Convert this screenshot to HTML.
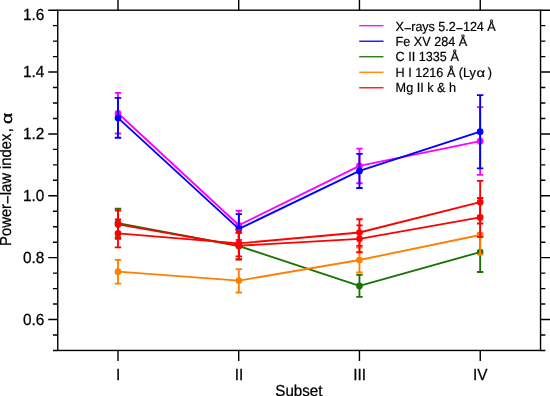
<!DOCTYPE html>
<html><head><meta charset="utf-8"><title>Power-law index</title>
<style>html,body{margin:0;padding:0;background:#fff;overflow:hidden}svg{display:block}text{font-family:"Liberation Sans",sans-serif;fill:#000;text-rendering:geometricPrecision}</style></head><body>
<svg width="550" height="396" viewBox="0 0 550 396">
<rect width="550" height="396" fill="#fff"/>
<g stroke="#ff00ff" fill="none" stroke-width="1.85" stroke-linejoin="round">
<polyline points="118.00,113.30 238.85,225.25 359.45,165.90 480.15,141.20"/>
<circle cx="118.00" cy="113.30" r="3.35" fill="#ff00ff" stroke="none"/>
<circle cx="238.85" cy="225.25" r="3.35" fill="#ff00ff" stroke="none"/>
<circle cx="359.45" cy="165.90" r="3.35" fill="#ff00ff" stroke="none"/>
<circle cx="480.15" cy="141.20" r="3.35" fill="#ff00ff" stroke="none"/>
<path d="M118.00 92.90V133.50M114.80 92.90H121.20M114.80 133.50H121.20M238.85 210.70V239.80M235.65 210.70H242.05M235.65 239.80H242.05M359.45 148.60V183.20M356.25 148.60H362.65M356.25 183.20H362.65M480.15 107.10V174.90M476.95 107.10H483.35M476.95 174.90H483.35"/>
</g>
<g stroke="#0000ff" fill="none" stroke-width="1.85" stroke-linejoin="round">
<polyline points="118.00,117.90 238.85,228.90 359.45,170.90 480.15,131.70"/>
<circle cx="118.00" cy="117.90" r="3.35" fill="#0000ff" stroke="none"/>
<circle cx="238.85" cy="228.90" r="3.35" fill="#0000ff" stroke="none"/>
<circle cx="359.45" cy="170.90" r="3.35" fill="#0000ff" stroke="none"/>
<circle cx="480.15" cy="131.70" r="3.35" fill="#0000ff" stroke="none"/>
<path d="M118.00 97.90V137.70M114.80 97.90H121.20M114.80 137.70H121.20M238.85 214.10V243.70M235.65 214.10H242.05M235.65 243.70H242.05M359.45 153.90V188.00M356.25 153.90H362.65M356.25 188.00H362.65M480.15 95.10V168.30M476.95 95.10H483.35M476.95 168.30H483.35"/>
</g>
<g stroke="#1b7206" fill="none" stroke-width="1.85" stroke-linejoin="round">
<polyline points="118.00,223.05 238.85,246.00 359.45,285.90 480.15,252.10"/>
<circle cx="118.00" cy="223.05" r="3.35" fill="#1b7206" stroke="none"/>
<circle cx="238.85" cy="246.00" r="3.35" fill="#1b7206" stroke="none"/>
<circle cx="359.45" cy="285.90" r="3.35" fill="#1b7206" stroke="none"/>
<circle cx="480.15" cy="252.10" r="3.35" fill="#1b7206" stroke="none"/>
<path d="M118.00 208.70V237.20M114.80 208.70H121.20M114.80 237.20H121.20M238.85 232.90V259.60M235.65 232.90H242.05M235.65 259.60H242.05M359.45 274.80V296.90M356.25 274.80H362.65M356.25 296.90H362.65M480.15 233.40V272.00M476.95 233.40H483.35M476.95 272.00H483.35"/>
</g>
<g stroke="#ff8000" fill="none" stroke-width="1.85" stroke-linejoin="round">
<polyline points="118.00,271.70 238.85,280.60 359.45,260.00 480.15,235.00"/>
<circle cx="118.00" cy="271.70" r="3.35" fill="#ff8000" stroke="none"/>
<circle cx="238.85" cy="280.60" r="3.35" fill="#ff8000" stroke="none"/>
<circle cx="359.45" cy="260.00" r="3.35" fill="#ff8000" stroke="none"/>
<circle cx="480.15" cy="235.00" r="3.35" fill="#ff8000" stroke="none"/>
<path d="M118.00 259.80V283.60M114.80 259.80H121.20M114.80 283.60H121.20M238.85 269.10V292.50M235.65 269.10H242.05M235.65 292.50H242.05M359.45 247.60V272.50M356.25 247.60H362.65M356.25 272.50H362.65M480.15 215.80V254.50M476.95 215.80H483.35M476.95 254.50H483.35"/>
</g>
<g stroke="#ff0000" fill="none" stroke-width="1.85" stroke-linejoin="round">
<polyline points="118.00,224.40 238.85,245.70 359.45,238.80 480.15,217.40"/>
<circle cx="118.00" cy="224.40" r="3.35" fill="#ff0000" stroke="none"/>
<circle cx="238.85" cy="245.70" r="3.35" fill="#ff0000" stroke="none"/>
<circle cx="359.45" cy="238.80" r="3.35" fill="#ff0000" stroke="none"/>
<circle cx="480.15" cy="217.40" r="3.35" fill="#ff0000" stroke="none"/>
<path d="M118.00 210.50V238.80M114.80 210.50H121.20M114.80 238.80H121.20M238.85 229.80V256.40M235.65 229.80H242.05M235.65 256.40H242.05M359.45 219.20V245.80M356.25 219.20H362.65M356.25 245.80H362.65M480.15 180.80V223.50M476.95 180.80H483.35M476.95 223.50H483.35"/>
</g>
<g stroke="#ff0000" fill="none" stroke-width="1.85" stroke-linejoin="round">
<polyline points="118.00,233.40 238.85,243.40 359.45,232.50 480.15,202.20"/>
<circle cx="118.00" cy="233.40" r="3.35" fill="#ff0000" stroke="none"/>
<circle cx="238.85" cy="243.40" r="3.35" fill="#ff0000" stroke="none"/>
<circle cx="359.45" cy="232.50" r="3.35" fill="#ff0000" stroke="none"/>
<circle cx="480.15" cy="202.20" r="3.35" fill="#ff0000" stroke="none"/>
<path d="M118.00 219.50V247.40M114.80 219.50H121.20M114.80 247.40H121.20M238.85 232.50V259.20M235.65 232.50H242.05M235.65 259.20H242.05M359.45 225.40V252.20M356.25 225.40H362.65M356.25 252.20H362.65M480.15 198.00V236.80M476.95 198.00H483.35M476.95 236.80H483.35"/>
</g>
<g stroke="#000" stroke-width="1.4" fill="none" stroke-linecap="butt">
<rect x="57.75" y="10.2" width="482.80" height="340.25"/>
<path d="M57.75 350.45h-4.8M540.55 350.45h4.8M57.75 334.98h-4.8M540.55 334.98h4.8M57.75 319.52h-9.5M540.55 319.52h9.5M57.75 304.05h-4.8M540.55 304.05h4.8M57.75 288.59h-4.8M540.55 288.59h4.8M57.75 273.12h-4.8M540.55 273.12h4.8M57.75 257.65h-9.5M540.55 257.65h9.5M57.75 242.19h-4.8M540.55 242.19h4.8M57.75 226.72h-4.8M540.55 226.72h4.8M57.75 211.26h-4.8M540.55 211.26h4.8M57.75 195.79h-9.5M540.55 195.79h9.5M57.75 180.32h-4.8M540.55 180.32h4.8M57.75 164.86h-4.8M540.55 164.86h4.8M57.75 149.39h-4.8M540.55 149.39h4.8M57.75 133.93h-9.5M540.55 133.93h9.5M57.75 118.46h-4.8M540.55 118.46h4.8M57.75 103.00h-4.8M540.55 103.00h4.8M57.75 87.53h-4.8M540.55 87.53h4.8M57.75 72.06h-9.5M540.55 72.06h9.5M57.75 56.60h-4.8M540.55 56.60h4.8M57.75 41.13h-4.8M540.55 41.13h4.8M57.75 25.67h-4.8M540.55 25.67h4.8M57.75 10.20h-9.5M540.55 10.20h9.5M118.00 350.45v10.5M118.00 10.20v-10.5M238.70 350.45v10.5M238.70 10.20v-10.5M359.45 350.45v10.5M359.45 10.20v-10.5M480.25 350.45v10.5M480.25 10.20v-10.5"/>
</g>
<g stroke="#000" stroke-width="0.25">
<text transform="translate(44.30 324.72) scale(1 1.045)" font-size="15.4" text-anchor="end">0.6</text>
<text transform="translate(44.30 262.85) scale(1 1.045)" font-size="15.4" text-anchor="end">0.8</text>
<text transform="translate(44.30 200.99) scale(1 1.045)" font-size="15.4" text-anchor="end">1.0</text>
<text transform="translate(44.30 139.13) scale(1 1.045)" font-size="15.4" text-anchor="end">1.2</text>
<text transform="translate(44.30 77.26) scale(1 1.045)" font-size="15.4" text-anchor="end">1.4</text>
<text transform="translate(44.30 19.50) scale(1 1.045)" font-size="15.4" text-anchor="end">1.6</text>
<text transform="translate(118.10 379.80) scale(1 1.045)" font-size="15.4" text-anchor="middle">I</text>
<text transform="translate(238.95 379.80) scale(1 1.045)" font-size="15.4" text-anchor="middle">II</text>
<text transform="translate(359.55 379.80) scale(1 1.045)" font-size="15.4" text-anchor="middle">III</text>
<text transform="translate(480.25 379.80) scale(1 1.045)" font-size="15.4" text-anchor="middle">IV</text>
<text transform="translate(298.85 396.40) scale(1 1.045)" font-size="15.15" text-anchor="middle">Subset</text>
<text transform="translate(11.3 245.9) rotate(-90) scale(1 1.08)" font-size="14.8" text-anchor="start">Power<tspan dy="1.75">−</tspan><tspan dy="-1.75">law index</tspan><tspan dx="1.3">,</tspan></text>
<text transform="translate(11.8 245.9) rotate(-90) translate(122.0 0) scale(1.31 1.0)" font-size="15">α</text>
</g>
<g stroke="#000" stroke-width="0.2">
<line x1="359.2" y1="25.70" x2="383.5" y2="25.70" stroke="#ff00ff" stroke-width="1.3"/>
<text transform="translate(395.60 30.80) scale(1 1.045)" font-size="12.65" text-anchor="start" textLength="100.1" lengthAdjust="spacing">X<tspan dy="1.9">−</tspan><tspan dy="-1.9">rays 5.2</tspan><tspan dy="1.9">−</tspan><tspan dy="-1.9">124 Å</tspan></text>
<line x1="359.2" y1="41.22" x2="383.5" y2="41.22" stroke="#0000ff" stroke-width="1.3"/>
<text transform="translate(395.60 45.82) scale(1 1.045)" font-size="12.65" text-anchor="start">Fe XV 284 Å</text>
<line x1="359.2" y1="56.74" x2="383.5" y2="56.74" stroke="#1b7206" stroke-width="1.3"/>
<text transform="translate(395.60 61.24) scale(1 1.045)" font-size="12.65" text-anchor="start">C II 1335 Å</text>
<line x1="359.2" y1="72.26" x2="383.5" y2="72.26" stroke="#ff8000" stroke-width="1.3"/>
<text transform="translate(395.60 76.66) scale(1 1.045)" font-size="12.65" text-anchor="start">H I 1216 Å (Ly</text>
<text transform="translate(476.5 76.66) scale(1.18 0.96)" font-size="12.65">α</text>
<text transform="translate(487.70 76.66) scale(1 1.045)" font-size="12.65" text-anchor="start">)</text>
<line x1="359.2" y1="87.78" x2="383.5" y2="87.78" stroke="#ff0000" stroke-width="1.3"/>
<text transform="translate(395.60 92.08) scale(1 1.045)" font-size="12.65" text-anchor="start">Mg II k &amp; h</text>
</g>
</svg></body></html>
